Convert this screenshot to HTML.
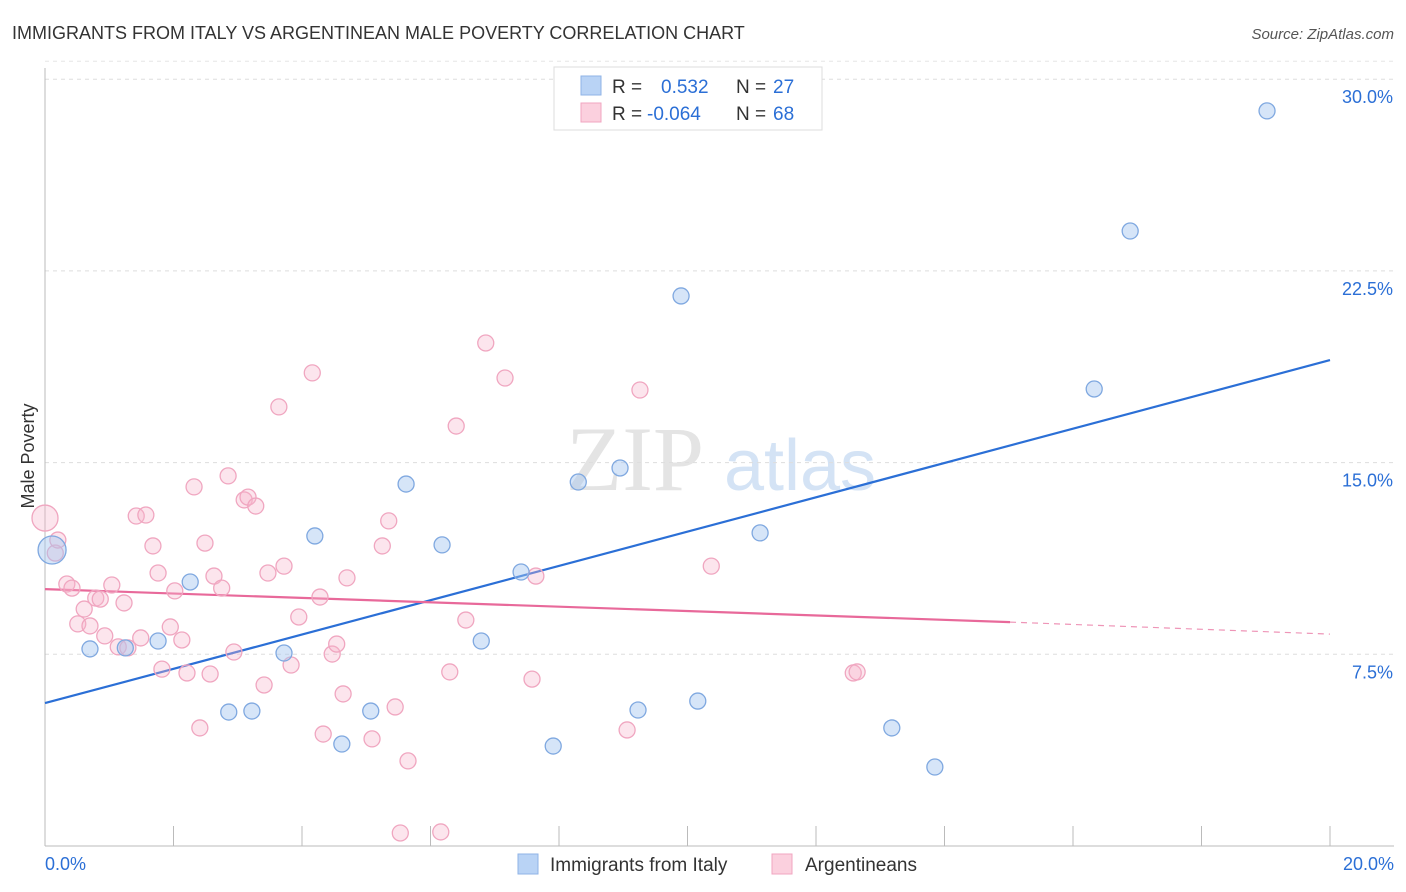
<!DOCTYPE html>
<html><head><meta charset="utf-8">
<style>
body{margin:0;background:#fff;font-family:"Liberation Sans",sans-serif;}
svg{display:block}
</style></head>
<body>
<svg width="1406" height="892" viewBox="0 0 1406 892" id="chart">
<text x="12" y="39" font-size="18" fill="#333">IMMIGRANTS FROM ITALY VS ARGENTINEAN MALE POVERTY CORRELATION CHART</text>
<text x="1394" y="39" font-size="15" fill="#555" text-anchor="end" font-style="italic">Source: ZipAtlas.com</text>
<text transform="translate(34,456) rotate(-90)" font-size="18" fill="#333" text-anchor="middle">Male Poverty</text>
<g>
<text x="635" y="490" font-size="92" fill="#e4e4e4" text-anchor="middle" font-family="Liberation Serif,serif">ZIP</text>
<text x="800" y="490" font-size="72" fill="#d4e3f5" text-anchor="middle">atlas</text>
</g>
<g id="grid"></g><g id="axes"></g><g id="lines"></g><g id="pts"></g>
<g>
<rect x="554" y="67" width="268" height="63" fill="#fff" stroke="#ddd"/>
<rect x="581" y="76" width="20" height="19" fill="#b9d3f5" stroke="#8fb3e6"/>
<rect x="581" y="103" width="20" height="19" fill="#fbd0de" stroke="#f0a6c0"/>
<text x="612" y="93" font-size="19" fill="#333">R = </text>
<text x="661" y="93" font-size="19" fill="#2b6fd6">0.532</text>
<text x="736" y="93" font-size="19" fill="#333">N = </text>
<text x="773" y="93" font-size="19" fill="#2b6fd6">27</text>
<text x="612" y="120" font-size="19" fill="#333">R = </text>
<text x="647" y="120" font-size="19" fill="#2b6fd6">-0.064</text>
<text x="736" y="120" font-size="19" fill="#333">N = </text>
<text x="773" y="120" font-size="19" fill="#2b6fd6">68</text>
</g>
<g>
<rect x="518" y="854" width="20" height="20" fill="#b9d3f5" stroke="#8fb3e6"/>
<text x="550" y="871" font-size="19" fill="#333">Immigrants from Italy</text>
<rect x="772" y="854" width="20" height="20" fill="#fbd0de" stroke="#f0a6c0"/>
<text x="805" y="871" font-size="19" fill="#333">Argentineans</text>
</g>
</svg>
<script>
const xTicks=[0,2,4,6,8,10,12,14,16,18,20];
const yTicks=[7.5,15,22.5,30];
const yTickLabels=["7.5%","15.0%","22.5%","30.0%"];
const xEndLabels=["0.0%","20.0%"];
const italyX=[0.11,0.70,1.25,1.76,2.26,2.86,3.22,3.72,4.20,4.62,5.07,5.62,6.18,6.79,7.41,7.91,8.30,8.95,9.23,9.90,10.16,11.13,13.18,13.85,16.33,16.89,19.02];
const italyY=[11.58,7.71,7.75,8.02,10.33,5.24,5.28,7.55,12.13,3.99,5.28,14.16,11.78,8.02,10.72,3.91,14.24,14.79,5.32,21.52,5.67,12.25,4.62,3.09,17.88,24.06,28.76];
const argX=[0,0.16,0.20,0.34,0.42,0.51,0.61,0.70,0.79,0.86,0.93,1.04,1.14,1.23,1.29,1.42,1.49,1.57,1.68,1.76,1.82,1.95,2.02,2.13,2.21,2.32,2.41,2.49,2.57,2.63,2.75,2.85,2.94,3.10,3.16,3.28,3.41,3.47,3.64,3.72,3.83,3.95,4.16,4.28,4.33,4.47,4.54,4.64,4.70,5.09,5.25,5.35,5.45,5.53,5.65,6.16,6.30,6.40,6.55,6.86,7.16,7.58,7.64,9.06,9.26,10.37,12.58,12.64];
const argY=[12.83,11.46,11.97,10.25,10.09,8.69,9.27,8.61,9.70,9.66,8.22,10.21,7.79,9.51,7.75,12.91,8.14,12.95,11.74,10.68,6.92,8.57,9.98,8.06,6.77,14.05,4.62,11.85,6.73,10.56,10.09,14.48,7.59,13.54,13.65,13.30,6.30,10.68,17.18,10.95,7.08,8.96,18.51,9.74,4.38,7.51,7.90,5.95,10.49,4.19,11.74,12.72,5.44,0.51,3.33,0.55,6.81,16.43,8.84,19.68,18.31,6.53,10.56,4.54,17.84,10.95,6.77,6.81];
const italyLine=[[0,5.59],[20,19.01]];
const argLine=[[0,10.05],[15.02,8.76],[20,8.29]];
const ns="http://www.w3.org/2000/svg";
const X=v=>45+v/20*1285, Y=v=>846-v/7.5*191.7;
function mk(t,a,p){const e=document.createElementNS(ns,t);for(const k in a)e.setAttribute(k,a[k]);p.appendChild(e);return e;}
const grid=document.getElementById('grid'),axes=document.getElementById('axes'),lines=document.getElementById('lines'),pts=document.getElementById('pts');
yTicks.forEach((t,i)=>{
 const g=mk('line',{x1:45,x2:1394,y1:Y(t),y2:Y(t),stroke:'#ddd','stroke-dasharray':'4,4'},grid);
 
 
 const l=mk('text',{x:1393,y:Y(t)+24,'font-size':18,fill:'#2b6fd6','text-anchor':'end'},axes);
 l.textContent=yTickLabels[i];
 
 
});
const tg=mk('line',{x1:45,x2:1394,y1:Y(30)-18,y2:Y(30)-18,stroke:'#e6e6e6','stroke-dasharray':'4,4'},grid);


const xa=mk('line',{x1:45,x2:1394,y1:846,y2:846,stroke:'#bbb'},axes);


const ya=mk('line',{x1:45,x2:45,y1:68,y2:846,stroke:'#bbb'},axes);


xTicks.forEach(t=>{
 const k=mk('line',{x1:X(t),x2:X(t),y1:826,y2:846,stroke:'#bbb'},axes);
 
 
});
[[0,'start',45],[20,'end',1394]].forEach((d,i)=>{
 const l=mk('text',{x:d[2],y:870,'font-size':18,fill:'#2b6fd6','text-anchor':d[1]},axes);
 l.textContent=xEndLabels[i];
 
 
});
const bl=mk('line',{x1:X(italyLine[0][0]),y1:Y(italyLine[0][1]),x2:X(italyLine[1][0]),y2:Y(italyLine[1][1]),stroke:'#2b6fd6','stroke-width':2.2},lines);


const pl=mk('line',{x1:X(argLine[0][0]),y1:Y(argLine[0][1]),x2:X(argLine[1][0]),y2:Y(argLine[1][1]),stroke:'#e8699a','stroke-width':2.2},lines);


const pd=mk('line',{x1:X(argLine[1][0]),y1:Y(argLine[1][1]),x2:X(argLine[2][0]),y2:Y(argLine[2][1]),stroke:'#e8699a','stroke-width':1.2,'stroke-dasharray':'6,5',opacity:0.7},lines);


argX.forEach((v,i)=>{
 const c=mk('circle',{cx:X(v),cy:Y(argY[i]),r:i===0?13:8,fill:'rgba(246,180,204,0.35)',stroke:'#f0a6c0','stroke-width':1.3},pts);
 
 
});
italyX.forEach((v,i)=>{
 const c=mk('circle',{cx:X(v),cy:Y(italyY[i]),r:i===0?14:8,fill:'rgba(165,198,240,0.45)',stroke:'#7fa8e0','stroke-width':1.3},pts);
 
 
});
</script>
</body></html>
